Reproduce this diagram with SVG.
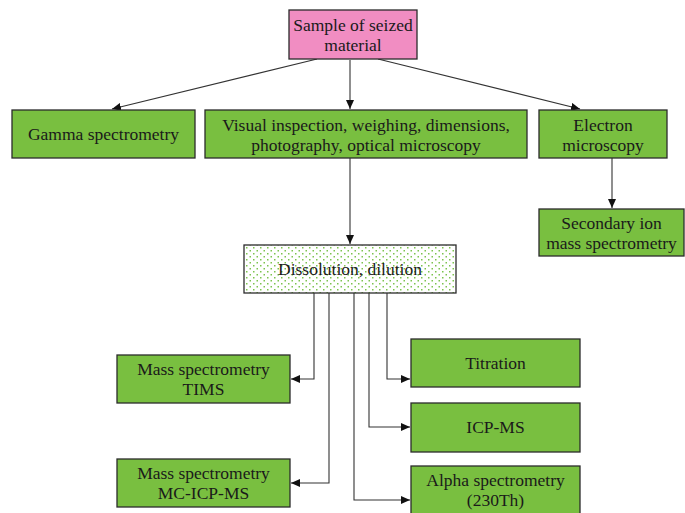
<svg xmlns="http://www.w3.org/2000/svg" width="685" height="513" viewBox="0 0 685 513">
<style>
  .box { fill: #79BF40; stroke: #2b2b2b; stroke-width: 1.3; }
  .pink { fill: #F18DC2; stroke: #2b2b2b; stroke-width: 1.3; }
  .diss { fill: url(#dots); stroke: #2b2b2b; stroke-width: 1.3; }
  text { font-family: "Liberation Serif", "Times New Roman", serif; font-size: 17.5px; fill: #1a1a1a; text-anchor: middle; }
  .conn { fill: none; stroke: #333; stroke-width: 1.1; marker-end: url(#arr); }
</style>
<defs>
  <marker id="arr" markerWidth="10" markerHeight="8" refX="9" refY="4" orient="auto" markerUnits="userSpaceOnUse">
    <path d="M0,0 L9,4 L0,8 Z" fill="#111"/>
  </marker>
  <pattern id="dots" width="7" height="6" patternUnits="userSpaceOnUse">
    <rect width="7" height="6" fill="#ffffff"/>
    <rect x="1" y="1" width="1.5" height="1.5" fill="#7cc44e"/>
    <rect x="4.5" y="4" width="1.5" height="1.5" fill="#7cc44e"/>
  </pattern>
</defs>
<rect width="685" height="513" fill="#ffffff"/>

<g id="connectors">
  <path class="conn" d="M317,59 L112,109"/>
  <path class="conn" d="M350,60 L350,109"/>
  <path class="conn" d="M378,59 L580,109"/>
  <path class="conn" d="M350,158 L350,244"/>
  <path class="conn" d="M612,157 L612,208"/>
  <path class="conn" d="M314,293 L314,379 L291,379"/>
  <path class="conn" d="M329,293 L329,483 L291,483"/>
  <path class="conn" d="M354,293 L354,500 L410,500"/>
  <path class="conn" d="M369,293 L369,427 L410,427"/>
  <path class="conn" d="M387,293 L387,379 L410,379"/>
</g>

<g id="sample">
  <rect class="pink" x="289" y="10" width="128" height="49"/>
  <text x="353" y="31">Sample of seized</text>
  <text x="353" y="51">material</text>
</g>
<g id="gamma">
  <rect class="box" x="12" y="110" width="183" height="48"/>
  <text x="103.5" y="140">Gamma spectrometry</text>
</g>
<g id="visual">
  <rect class="box" x="205" y="110" width="322" height="48"/>
  <text x="366" y="131">Visual inspection, weighing, dimensions,</text>
  <text x="366" y="151">photography, optical microscopy</text>
</g>
<g id="electron">
  <rect class="box" x="539" y="110" width="128" height="48"/>
  <text x="603" y="131">Electron</text>
  <text x="603" y="151">microscopy</text>
</g>
<g id="sims">
  <rect class="box" x="539" y="209" width="145" height="47"/>
  <text x="611.5" y="229">Secondary ion</text>
  <text x="611.5" y="249">mass spectrometry</text>
</g>
<g id="dissolution">
  <rect class="diss" x="244" y="245" width="212" height="48"/>
  <text x="350" y="275">Dissolution, dilution</text>
</g>
<g id="tims">
  <rect class="box" x="117" y="355" width="173" height="48"/>
  <text x="203.5" y="375">Mass spectrometry</text>
  <text x="203.5" y="395">TIMS</text>
</g>
<g id="mcicpms">
  <rect class="box" x="117" y="459" width="173" height="48"/>
  <text x="203.5" y="479">Mass spectrometry</text>
  <text x="203.5" y="499">MC-ICP-MS</text>
</g>
<g id="titration">
  <rect class="box" x="411" y="339" width="169" height="48"/>
  <text x="495.5" y="369">Titration</text>
</g>
<g id="icpms">
  <rect class="box" x="411" y="403" width="169" height="49"/>
  <text x="495.5" y="433">ICP-MS</text>
</g>
<g id="alpha">
  <rect class="box" x="411" y="466" width="169" height="50"/>
  <text x="495.5" y="486">Alpha spectrometry</text>
  <text x="495.5" y="506">(230Th)</text>
</g>
</svg>
